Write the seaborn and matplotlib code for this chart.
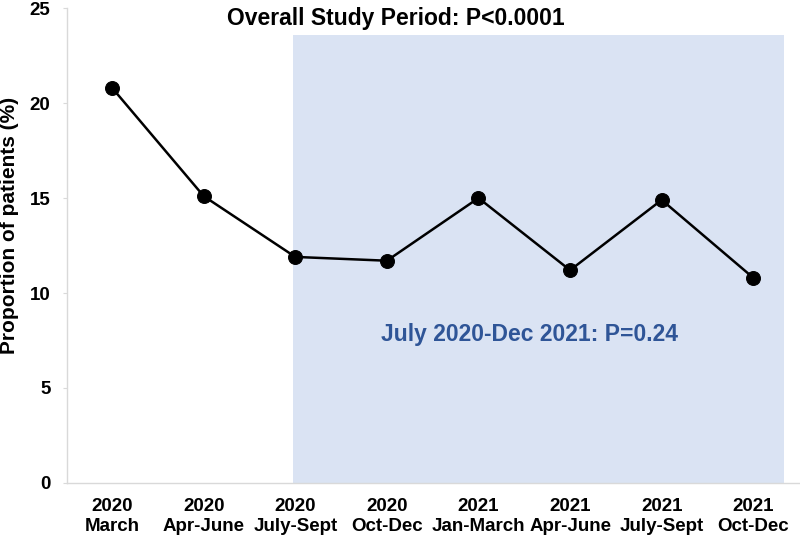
import matplotlib
matplotlib.use("Agg")
import matplotlib.pyplot as plt
import seaborn as sns
import pandas as pd

years = ["2020", "2020", "2020", "2020", "2021", "2021", "2021", "2021"]
periods = ["March", "Apr-June", "July-Sept", "Oct-Dec", "Jan-March", "Apr-June", "July-Sept", "Oct-Dec"]
values = [20.8, 15.1, 11.9, 11.7, 15.0, 11.2, 14.9, 10.8]
yticks = [0, 5, 10, 15, 20, 25]

sns.set_theme(style="white")
plt.rcParams['font.family'] = ['Liberation Sans', 'DejaVu Sans']
plt.rcParams['text.color'] = 'black'
plt.rcParams['axes.labelcolor'] = 'black'
plt.rcParams['xtick.labelcolor'] = 'black'
plt.rcParams['ytick.labelcolor'] = 'black'

labels = [f"{y}\n{p}" for y, p in zip(years, periods)]
df = pd.DataFrame({"x": list(range(len(values))), "value": values})

fig = plt.figure(figsize=(8, 5.37), dpi=100)
ax = fig.add_axes([0.084, 0.1006, 0.916, 0.8844])

ax.fill_between([1.97, 7.34], 0, 23.6, color="#dae3f3", zorder=0, linewidth=0)

sns.lineplot(data=df, x="x", y="value", ax=ax, color="black", linewidth=1.8,
             marker="o", markersize=10, markeredgecolor="black", zorder=3)

ax.set_xlim(-0.49, 7.51)
ax.set_ylim(0, 25)
ax.set_xticks(range(len(values)))
ax.set_xticklabels(labels, fontsize=13.5, fontweight="bold", linespacing=1.22, color="black")
ax.set_yticks(yticks)
ax.set_yticklabels([str(t) for t in yticks], fontsize=13.5, fontweight="bold", color="black")
ax.tick_params(axis="y", which="major", length=3, color="#d9d9d9", width=0.8, pad=9, left=True)
ax.tick_params(axis="x", length=0, pad=11)
ax.set_xlabel("")
ax.set_ylabel("Proportion of patients (%)", fontsize=15, fontweight="bold", color="black")
ax.yaxis.set_label_coords(-0.066, 0.543)

for s in ["top", "right"]:
    ax.spines[s].set_visible(False)
for s in ["left", "bottom"]:
    ax.spines[s].set_color("#d9d9d9")
    ax.spines[s].set_linewidth(1.0)

ax.text(0.449, 0.979, "Overall Study Period: P<0.0001", transform=ax.transAxes,
        ha="center", va="center", fontsize=16.5, fontweight="bold", color="black")
ax.text(4.56, 7.8, "July 2020-Dec 2021: P=0.24", ha="center", va="center",
        fontsize=16.5, fontweight="bold", color="#2f5597")

fig.savefig("out.png", dpi=100)
